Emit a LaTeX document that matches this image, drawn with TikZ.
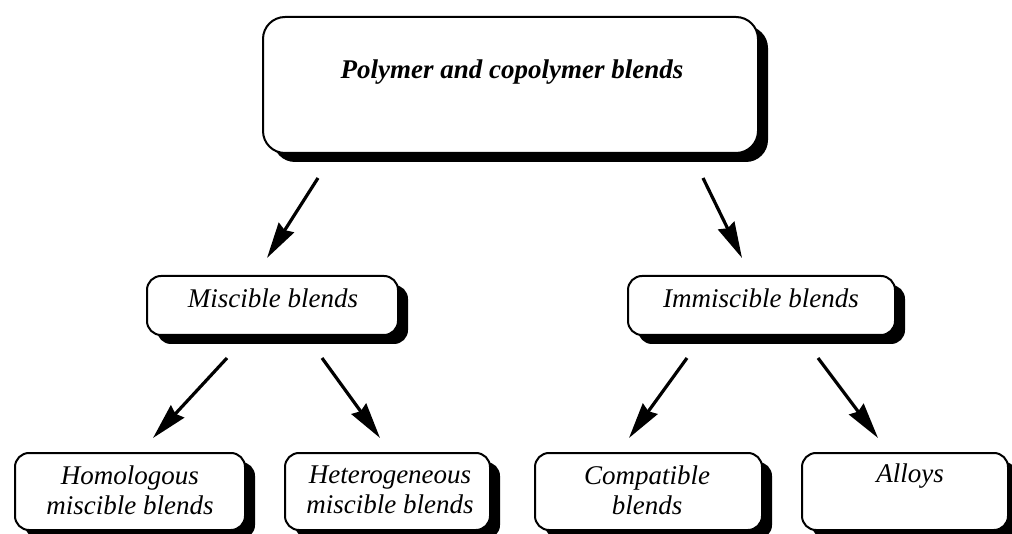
\documentclass[tikz,border=0pt]{standalone}
\usepackage{fontspec}
\setmainfont{Liberation Serif}
\usetikzlibrary{arrows.meta,shadows}
\tikzset{
  boxstyle/.style={draw=black, line width=2pt, fill=white, rounded corners=#1,
    drop shadow={shadow xshift=10pt, shadow yshift=-9pt, fill=black, opacity=1},
    inner sep=0pt},
  boxstyle/.default=14pt,
  lbl/.style={font=\fontsize{27}{30}\selectfont\itshape, align=center, inner sep=0pt},
  toplbl/.style={font=\fontsize{27}{30}\selectfont\bfseries\itshape, inner sep=0pt},
  arr/.style={line width=3.2pt, -{Stealth[length=36pt,width=18pt,inset=3pt,fill=black]}}
}
\begin{document}
\begin{tikzpicture}[x=1pt,y=-1pt]
\useasboundingbox[fill=white] (0,0) rectangle (1012,534);
% boxes: corners in pixel coordinates
\node[boxstyle=22pt, minimum width=495pt, minimum height=136pt] (top) at (510.5,85) {};
\node[boxstyle, minimum width=251pt, minimum height=59pt] (mis) at (272.5,305.5) {};
\node[boxstyle, minimum width=267pt, minimum height=59pt] (imm) at (761.5,305.5) {};
\node[boxstyle, minimum width=230pt, minimum height=77pt] (hom) at (130,491.5) {};
\node[boxstyle, minimum width=205pt, minimum height=77pt] (het) at (387.5,491.5) {};
\node[boxstyle, minimum width=227pt, minimum height=77pt] (com) at (648.5,491.5) {};
\node[boxstyle, minimum width=206pt, minimum height=77pt] (all) at (905,491.5) {};
% texts
\node[toplbl] (toptxt) at (512,72) {Polymer and copolymer blends};
\node[lbl] (mistxt) at (273,298) {Miscible blends};
\node[lbl] (immtxt) at (761,298) {Immiscible blends};
\node[lbl] (homtxt) at (130,490) {Homologous\\miscible blends};
\node[lbl] (hettxt) at (390,490) {Heterogeneous\\miscible blends};
\node[lbl] (comtxt) at (647,490) {Compatible\\blends};
\node[lbl] (alltxt) at (910,476) {Alloys};
% arrow end points
\coordinate (a1s) at (318,178); \coordinate (a1e) at (267,258);
\coordinate (a2s) at (703,178); \coordinate (a2e) at (742,258);
\coordinate (a3s) at (227,358); \coordinate (a3e) at (153,438);
\coordinate (a4s) at (322,358); \coordinate (a4e) at (380,438);
\coordinate (a5s) at (687,358); \coordinate (a5e) at (629,438);
\coordinate (a6s) at (818,358); \coordinate (a6e) at (878,438);
\draw[arr] (a1s) -- (a1e);
\draw[arr] (a2s) -- (a2e);
\draw[arr] (a3s) -- (a3e);
\draw[arr] (a4s) -- (a4e);
\draw[arr] (a5s) -- (a5e);
\draw[arr] (a6s) -- (a6e);
\end{tikzpicture}
\end{document}
